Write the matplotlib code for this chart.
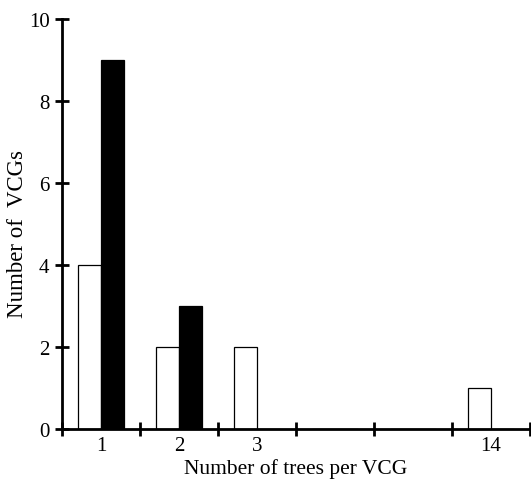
import matplotlib.pyplot as plt
import numpy as np

categories = ["1", "2", "3", "", "", "14"]
white_counts = [4, 2, 2, 0, 0, 1]
black_counts = [9, 3, 0, 0, 0, 0]

plt.rcParams['font.family'] = ['Liberation Serif', 'DejaVu Serif']

fig = plt.figure(figsize=(5.31, 4.85), dpi=100)
ax = fig.add_axes([62 / 531, 55 / 485, 468 / 531, 410 / 485])

x = np.arange(len(categories))
w = 0.29
ax.bar(x - w / 2, white_counts, w, color="white", edgecolor="black", linewidth=0.9)
ax.bar(x + w / 2, black_counts, w, color="black", edgecolor="black", linewidth=0.9)

ax.set_xlim(-0.5, len(categories) - 0.5)
ax.set_ylim(0, 10)

for s in ["top", "right"]:
    ax.spines[s].set_visible(False)
for s in ["left", "bottom"]:
    ax.spines[s].set_linewidth(2)

ax.set_yticks([0, 2, 4, 6, 8, 10])
ax.tick_params(axis="y", direction="inout", length=10, width=2, labelsize=15, pad=4)

ax.set_xticks(np.arange(len(categories) + 1) - 0.5)
ax.set_xticklabels([])
ax.tick_params(axis="x", which="major", direction="inout", length=10, width=2)
ax.set_xticks(x, minor=True)
ax.set_xticklabels(categories, minor=True)
ax.tick_params(axis="x", which="minor", length=0, labelsize=15, pad=5)

ax.set_xlabel("Number of trees per VCG", fontsize=15.5, labelpad=2)
ax.set_ylabel("Number of  VCGs", fontsize=16.5)
ax.yaxis.set_label_coords(-0.072, 0.478)

fig.savefig("out.png", dpi=100)
